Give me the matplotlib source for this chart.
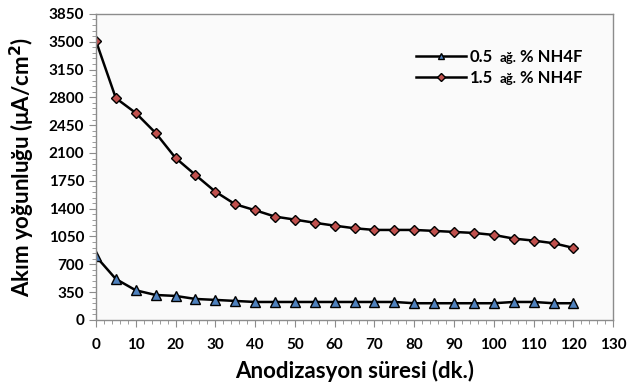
import matplotlib
matplotlib.use("Agg")
import matplotlib.pyplot as plt
from matplotlib.ticker import MultipleLocator

# data
sure = [0, 5, 10, 15, 20, 25, 30, 35, 40, 45, 50, 55, 60, 65, 70, 75, 80, 85, 90,
        95, 100, 105, 110, 115, 120]
akim_05 = [800, 515, 373, 314, 302, 264, 252, 239, 226, 226, 226, 226, 226, 226,
           226, 226, 210, 210, 210, 210, 210, 226, 226, 210, 210]
akim_15 = [3510, 2790, 2604, 2352, 2038, 1824, 1614, 1455, 1380, 1300, 1262, 1222,
           1186, 1153, 1132, 1132, 1132, 1120, 1107, 1094, 1069, 1023, 998, 965, 906]
derisim = ["0.5", "1.5"]
birim_kucuk = "ağ."
birim = "% NH4F"

plt.rcParams['font.family'] = ['Lato', 'DejaVu Sans']
plt.rcParams['font.weight'] = 'bold'

fig = plt.figure(figsize=(6.27, 3.85), dpi=100)
ax = fig.add_axes([0.153, 0.169, 0.825, 0.795])
ax.set_facecolor('#fafafa')

ax.plot(sure, akim_05, '-', color='black', lw=1.8, marker='^', ms=6.5,
        mfc='#4f81bd', mec='black', mew=1.0, label=derisim[0])
ax.plot(sure, akim_15, '-', color='black', lw=1.8, marker='D', ms=5.5,
        mfc='#c0504d', mec='black', mew=1.0, label=derisim[1])

ax.set_xlim(0, 130)
ax.set_ylim(0, 3850)
ax.xaxis.set_major_locator(MultipleLocator(10))
ax.xaxis.set_minor_locator(MultipleLocator(2))
ax.yaxis.set_major_locator(MultipleLocator(350))
ax.yaxis.set_minor_locator(MultipleLocator(70))

for s in ax.spines.values():
    s.set_color('#8c8c8c')
    s.set_linewidth(1.0)
ax.tick_params(which='both', direction='out', color='#8c8c8c', labelsize=11,
               labelcolor='black')
ax.tick_params(which='major', length=5)
ax.tick_params(which='minor', length=3)
ax.tick_params(axis='x', pad=8)

ax.set_xlabel("Anodizasyon süresi (dk.)", fontsize=16, fontweight='bold', labelpad=6)
ax.set_ylabel("Akım yoğunluğu (μA/cm$^\\mathbf{2}$)", fontsize=16, fontweight='bold',
              labelpad=8)

leg = ax.legend(loc='upper left', bbox_to_anchor=(0.59, 0.935), frameon=False,
                fontsize=12, handlelength=3.0, handletextpad=0.2, labelspacing=0.3,
                markerscale=0.75)

# legend units: small "ağ." followed by normal "% NH4F"
fig.canvas.draw()
r = fig.canvas.get_renderer()
for t in leg.get_texts():
    bb = t.get_window_extent(r)
    a = fig.text(bb.x1 + 7, bb.y0 + 3, birim_kucuk, transform=None, fontsize=9.5,
                 fontweight='bold', va='baseline', ha='left')
    ab = a.get_window_extent(r)
    fig.text(ab.x1 + 3, bb.y0 + 3, birim, transform=None, fontsize=12,
             fontweight='bold', va='baseline', ha='left')

fig.savefig("out.png", dpi=100)
